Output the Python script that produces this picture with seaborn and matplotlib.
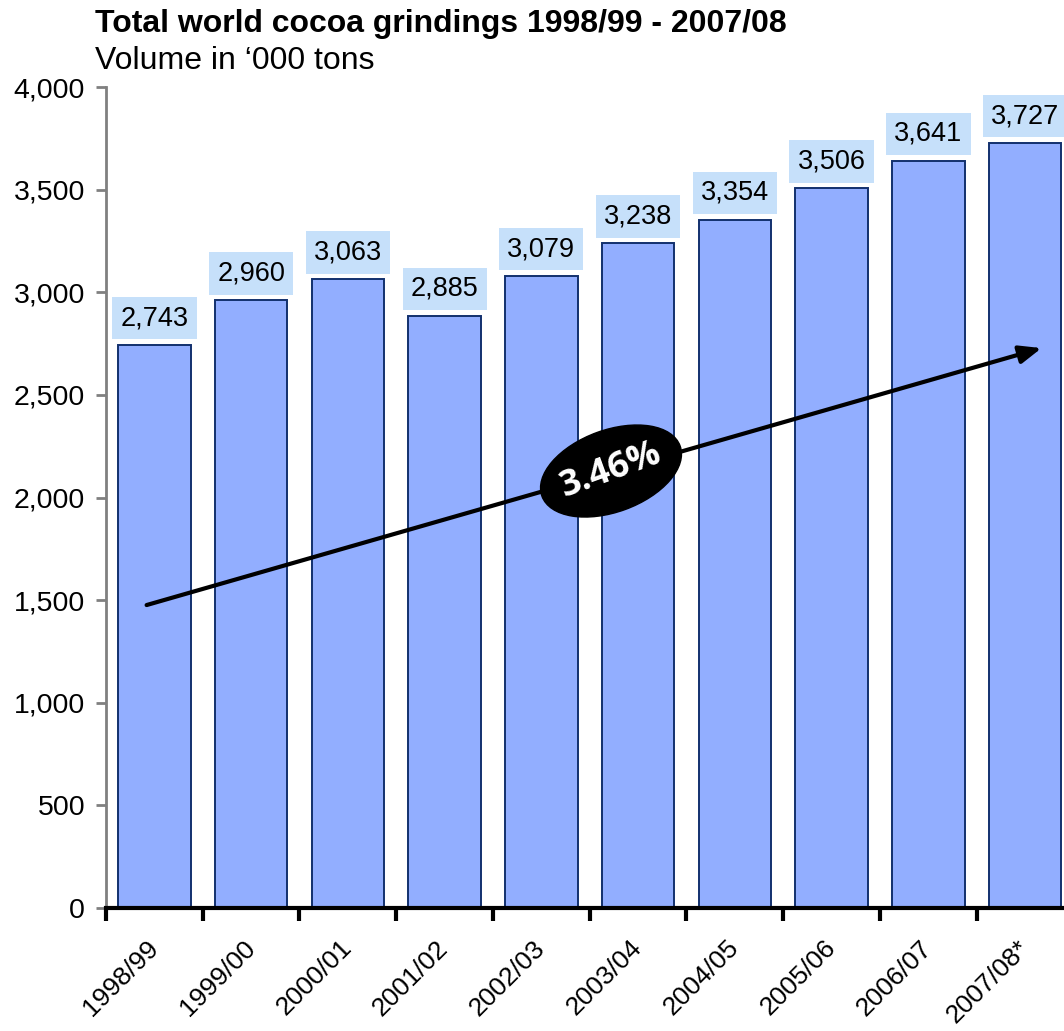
import numpy as np
import matplotlib
matplotlib.use("Agg")
import matplotlib.pyplot as plt
from matplotlib.patches import Ellipse
from matplotlib.transforms import ScaledTranslation
from matplotlib.ticker import FuncFormatter
import seaborn as sns

# Crop years and world grindings ('000 tons)
seasons = ["1998/99", "1999/00", "2000/01", "2001/02", "2002/03",
           "2003/04", "2004/05", "2005/06", "2006/07", "2007/08*"]
grindings = [2743, 2960, 3063, 2885, 3079, 3238, 3354, 3506, 3641, 3727]

growth_label = "3.46%"
trend_start = (-0.08, 1476)
trend_end = (9.17, 2728)
badge_center = (4.72, 2129)

sns.set_theme(style="white")
plt.rcParams["font.family"] = ["Liberation Sans", "DejaVu Sans"]
plt.rcParams["text.color"] = "black"
plt.rcParams["xtick.color"] = "black"
plt.rcParams["ytick.color"] = "black"

fig = plt.figure(figsize=(10.64, 10.31), dpi=100)
ax = fig.add_axes([0.0996, 0.1193, 0.9093, 0.7963])

bar_color = "#92AEFF"
edge_color = "#12306E"

sns.barplot(x=seasons, y=grindings, color=bar_color, saturation=1,
            width=0.75, edgecolor=edge_color, linewidth=1.4, ax=ax)

ax.set_xlim(-0.5, len(seasons) - 0.5)
ax.set_ylim(0, 4000)
ax.set_yticks(np.arange(0, 4001, 500))
ax.yaxis.set_major_formatter(FuncFormatter(lambda v, _: f"{v:,.0f}"))
ax.set_xlabel("")
ax.set_ylabel("")

# value labels on light-blue plates
ax.bar_label(ax.containers[0], labels=[f"{v:,}" for v in grindings],
             padding=10, fontsize=19.5, color="black",
             bbox=dict(boxstyle="square,pad=0.3", fc="#C6E0FA", ec="none"))

# spines and ticks
for side in ("top", "right"):
    ax.spines[side].set_visible(False)
ax.spines["left"].set_color("#808080")
ax.spines["left"].set_linewidth(2)
ax.spines["bottom"].set_color("black")
ax.spines["bottom"].set_linewidth(3)

ax.tick_params(axis="y", which="major", direction="out", length=7, width=2,
               color="#808080", labelsize=20.5, labelcolor="black", pad=8, left=True)
ax.set_xticks(range(len(seasons)))
ax.set_xticklabels(seasons, rotation=45, ha="right", va="center",
                   rotation_mode="anchor", fontsize=19, color="black")
ax.tick_params(axis="x", which="major", length=0, pad=26)
ax.set_xticks(np.arange(-0.5, len(seasons)), minor=True)
ax.tick_params(axis="x", which="minor", direction="out", length=9, width=3,
               color="black", bottom=True)

# trend arrow with growth rate badge
ax.annotate("", xy=trend_end, xytext=trend_start,
            arrowprops=dict(arrowstyle="-|>,head_length=1.1,head_width=0.45",
                            color="black", lw=3, shrinkA=0, shrinkB=0))
badge_pos = ScaledTranslation(badge_center[0], badge_center[1], ax.transData)
ax.add_patch(Ellipse((0, 0), width=147, height=82, angle=20,
                     facecolor="black", edgecolor="black",
                     transform=badge_pos, zorder=5))
ax.text(badge_center[0], badge_center[1], growth_label, rotation=20,
        ha="center", va="center", rotation_mode="anchor", color="white",
        fontsize=26, fontweight="bold", family=["Open Sans", "DejaVu Sans"],
        zorder=6)

fig.text(0.089, 0.991, "Total world cocoa grindings 1998/99 - 2007/08",
         fontsize=23, fontweight="bold", ha="left", va="top")
fig.text(0.089, 0.955, "Volume in \u2018000 tons", fontsize=23,
         ha="left", va="top")

fig.savefig("out.png", dpi=100)
